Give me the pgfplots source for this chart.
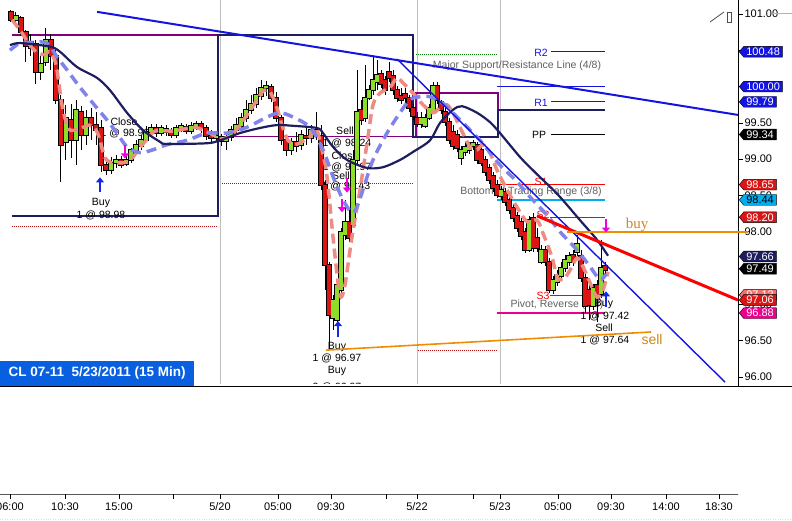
\documentclass[border=0pt]{standalone}
\usepackage{fontspec}
\setmainfont{Liberation Sans}
\newfontfamily\serifface{Liberation Serif}
\usepackage{pgfplots}
\usepackage{pgfplotstable}
\pgfplotsset{compat=1.18}
\usetikzlibrary{arrows.meta,shapes.symbols}

\definecolor{candlered}{RGB}{220,20,20}
\definecolor{candlegreen}{RGB}{140,222,40}
\definecolor{trendblue}{RGB}{20,20,225}
\definecolor{bandnavy}{RGB}{30,30,95}
\definecolor{rangepurple}{RGB}{128,0,128}
\definecolor{fastma}{RGB}{238,140,130}
\definecolor{slowma}{RGB}{130,130,235}
\definecolor{tradeorange}{RGB}{240,140,0}
\definecolor{textorange}{RGB}{205,135,30}
\definecolor{titleblue}{RGB}{8,96,224}
\definecolor{sepgray}{RGB}{190,190,190}
\definecolor{notegray}{RGB}{95,95,95}
\definecolor{arrowmag}{RGB}{240,0,220}
\definecolor{arrowblue}{RGB}{20,40,230}

% 15 min bars, x = bar position, prices in USD
\pgfplotstableread{
x o h l c
16 100.92 101.03 100.86 100.97
31 100.53 100.72 100.42 100.61
41 100.20 100.42 100.09 100.31
46 100.34 100.81 100.28 100.64
66 99.24 99.75 98.99 99.57
76 99.26 99.82 98.92 99.68
86 99.33 99.68 99.20 99.57
111 98.85 99.03 98.80 98.95
116 98.95 99.06 98.88 98.99
126 98.93 99.06 98.91 98.99
131 98.99 99.16 98.95 99.13
136 99.13 99.26 99.10 99.20
141 99.18 99.33 99.13 99.26
146 99.26 99.46 99.24 99.38
151 99.38 99.49 99.32 99.43
161 99.36 99.47 99.32 99.43
176 99.33 99.47 99.29 99.43
181 99.43 99.50 99.38 99.46
191 99.39 99.51 99.35 99.46
196 99.46 99.53 99.40 99.49
216 99.29 99.36 99.25 99.32
226 99.25 99.38 99.13 99.31
231 99.31 99.46 99.25 99.40
236 99.40 99.57 99.35 99.47
241 99.46 99.64 99.40 99.57
246 99.57 99.82 99.51 99.68
251 99.68 99.88 99.62 99.76
256 99.76 99.98 99.71 99.88
261 99.87 100.09 99.82 99.98
266 99.98 100.08 99.87 100.01
291 99.13 99.29 99.06 99.24
301 99.20 99.40 99.13 99.33
311 99.29 99.47 99.22 99.40
333 96.81 97.13 96.65 97.06
337 96.79 97.34 96.72 97.27
341 97.20 98.05 97.14 98.00
345 97.96 98.44 97.89 98.14
353 98.09 99.13 98.05 98.99
357 98.99 100.23 98.92 99.65
365 99.57 100.30 99.51 99.84
369 99.84 100.02 99.82 99.95
373 99.95 100.41 99.88 100.09
377 100.06 100.37 99.95 100.16
421 99.49 99.65 99.43 99.57
425 99.46 99.62 99.43 99.57
429 99.57 99.76 99.54 99.71
433 99.65 100.06 99.62 100.01
461 99.02 99.18 98.92 99.13
465 99.10 99.24 99.04 99.17
469 99.13 99.24 99.07 99.20
473 99.18 99.26 99.13 99.22
501 98.49 98.63 98.44 98.58
529 97.75 98.22 97.72 98.16
541 97.58 97.82 97.56 97.75
553 97.20 97.39 97.14 97.34
557 97.31 97.47 97.25 97.40
561 97.39 97.58 97.34 97.50
565 97.50 97.68 97.45 97.61
569 97.58 97.72 97.53 97.67
577 97.72 97.96 97.67 97.83
593 96.98 97.28 96.92 97.23
601 97.14 97.89 97.09 97.50
}\upbars

\pgfplotstableread{
x o h l c
11 101.03 101.06 100.89 100.92
21 100.95 100.97 100.70 100.75
26 100.75 100.78 100.34 100.56
36 100.59 100.64 100.04 100.20
51 100.64 100.72 100.23 100.42
56 100.42 100.50 99.76 99.82
61 99.82 99.88 98.69 99.20
71 99.54 99.76 99.02 99.26
81 99.65 99.73 99.13 99.33
91 99.57 99.71 99.26 99.47
96 99.47 99.65 99.20 99.40
101 99.43 99.54 98.82 98.92
106 98.92 98.99 98.78 98.85
121 98.99 99.04 98.88 98.92
156 99.43 99.49 99.31 99.36
166 99.42 99.47 99.32 99.38
171 99.38 99.43 99.29 99.33
186 99.44 99.49 99.35 99.39
201 99.49 99.53 99.36 99.43
206 99.43 99.47 99.26 99.32
211 99.32 99.40 99.24 99.29
221 99.31 99.35 99.18 99.25
271 99.99 100.04 99.79 99.84
276 99.84 99.93 99.51 99.57
281 99.57 99.61 99.20 99.26
286 99.26 99.33 99.04 99.13
296 99.24 99.38 99.10 99.18
306 99.32 99.43 99.20 99.29
316 99.40 99.65 99.26 99.32
321 99.32 99.47 98.58 98.64
325 98.64 98.71 97.20 97.54
329 97.54 97.58 96.37 96.85
349 98.14 98.30 97.86 97.91
361 99.68 99.82 99.47 99.54
381 100.17 100.23 99.98 100.04
385 100.09 100.15 99.88 99.95
389 100.20 100.34 100.06 100.12
393 100.15 100.23 99.88 99.95
397 99.95 100.01 99.79 99.84
401 99.87 99.98 99.76 99.82
405 99.90 99.98 99.76 99.84
409 99.84 99.88 99.65 99.71
413 99.71 99.76 99.54 99.60
417 99.57 99.65 99.44 99.49
437 100.01 100.06 99.76 99.82
441 99.79 99.82 99.62 99.68
445 99.65 99.71 99.46 99.51
449 99.51 99.57 99.21 99.26
453 99.38 99.47 99.13 99.18
457 99.33 99.40 99.10 99.16
477 99.20 99.24 98.93 98.99
481 99.13 99.18 98.91 98.95
485 98.99 99.04 98.77 98.82
489 98.88 98.93 98.66 98.71
493 98.77 98.82 98.55 98.60
497 98.64 98.71 98.47 98.51
505 98.55 98.60 98.36 98.41
509 98.44 98.49 98.25 98.30
513 98.33 98.38 98.14 98.19
517 98.22 98.27 98.00 98.05
521 98.14 98.19 97.89 97.94
525 98.00 98.05 97.71 97.75
533 98.19 98.26 97.72 97.78
537 97.91 98.05 97.72 97.78
545 97.75 97.80 97.53 97.58
549 97.58 97.64 97.16 97.20
573 97.68 97.75 97.53 97.58
581 97.67 97.75 97.31 97.36
585 97.36 97.42 96.88 96.98
589 97.20 97.28 96.79 96.99
597 97.27 97.34 96.76 97.09
605 97.53 97.58 97.42 97.47
}\downbars

\pgfplotsset{
  wick/.style={draw=none, mark=none, forget plot,
    error bars/.cd, y dir=both, y explicit, error mark=none,
    error bar style={draw=black, solid, line width=1pt}},
  body/.style 2 args={draw=none, mark=none, forget plot,
    error bars/.cd, y dir=both, y explicit, error mark=none,
    error bar style={draw=#1, solid, line width=#2}},
}

\begin{document}
\begin{tikzpicture}[x=1pt,y=1pt]
\path[use as bounding box] (0,0) rectangle (792,-521);
\clip (0,0) rectangle (792,-521);

\begin{axis}[
    name=price,
    at={(0,0)}, anchor=north west,
    scale only axis, width=738pt, height=386pt,
    xmin=0, xmax=738, ymin=95.876, ymax=101.193,
    axis x line*=bottom, axis y line*=right,
    axis line style={-, black, line width=0.8pt},
    xtick=\empty,
    ytick={96,96.5,97,97.5,98,98.5,99,99.5,100,100.5,101},
    yticklabels={96.00,96.50,97.00,97.50,98.00,98.50,99.00,99.50,100.00,100.50,101.00},
    tick align=outside, major tick length=5pt,
    tick style={black, line width=0.6pt},
    yticklabel style={font=\fontsize{11}{12}\selectfont, xshift=-2pt},
    clip=false,
  ]

  % day separators
  \addplot[sepgray, line width=0.8pt] coordinates {(220,95.876) (220,101.193)};
  \addplot[sepgray, line width=0.8pt] coordinates {(417,95.876) (417,101.193)};
  \addplot[sepgray, line width=0.8pt] coordinates {(500,95.876) (500,101.193)};

  % dotted reference levels
  \addplot[candlered!80!black, densely dotted, line width=1pt] coordinates {(12,98.07) (218,98.07)};
  \addplot[candlered!80!black, densely dotted, line width=1pt] coordinates {(222,98.66) (413,98.66)};
  \addplot[candlered!80!black, densely dotted, line width=1pt] coordinates {(418,96.37) (498,96.37)};
  \addplot[green!50!black, densely dotted, line width=1pt] coordinates {(416,100.44) (498,100.44)};

  % range boxes
  \addplot[rangepurple, line width=1.3pt] coordinates {
    (12,100.71) (218,100.71) (218,99.31) (416,99.31) (416,99.91) (498,99.91) (498,99.31) (416,99.31)};
  \addplot[bandnavy, line width=1.8pt] coordinates {
    (12,98.22) (218,98.22) (218,100.71) (413,100.71) (413,99.31) (498,99.31) (498,99.68) (605,99.68)};

  % pivot levels
  \addplot[trendblue, line width=1pt] coordinates {(551,100.48) (605,100.48)};
  \addplot[trendblue, line width=1pt] coordinates {(551,99.79) (605,99.79)};
  \addplot[black, line width=1pt] coordinates {(551,99.34) (605,99.34)};
  \addplot[trendblue, line width=1.6pt] coordinates {(497,100.00) (605,100.00)};
  \addplot[red, line width=1.6pt] coordinates {(498,98.65) (605,98.65)};
  \addplot[cyan, line width=1.6pt] coordinates {(497,98.44) (605,98.44)};
  \addplot[red, line width=1pt] coordinates {(550,98.20) (605,98.20)};
  \addplot[red, line width=0.8pt] coordinates {(550,97.13) (605,97.13)};
  \addplot[magenta, line width=1.6pt] coordinates {(497,96.88) (605,96.88)};

  % level and trade notes
  \begin{scope}[every node/.style={font=\fontsize{10.5}{11}\selectfont, inner sep=0pt}]
  \node[text=notegray] at (axis cs:517,100.28) {Major Support/Resistance Line (4/8)};
  \node[text=notegray] at (axis cs:531,98.55) {Bottom of Trading Range (3/8)};
  \node[text=notegray] at (axis cs:557,96.99) {Pivot, Reverse (2/8)};
  \node[text=trendblue] at (axis cs:541,100.47) {R2};
  \node[text=trendblue] at (axis cs:541,99.78) {R1};
  \node[text=black] at (axis cs:539,99.34) {PP};
  \node[text=red] at (axis cs:541,98.69) {S1};
  \node[text=red] at (axis cs:543,98.23) {S2};
  \node[text=red] at (axis cs:543,97.12) {S3};
  \node at (axis cs:124,99.52) {Close};
  \node at (axis cs:125,99.36) {1 @ 98.96};
  \node at (axis cs:101,98.40) {Buy};
  \node at (axis cs:101,98.23) {1 @ 98.98};
  \node at (axis cs:345,99.39) {Sell};
  \node at (axis cs:347,99.22) {1 @ 98.24};
  \node at (axis cs:345,99.05) {Close};
  \node at (axis cs:347,98.89) {1 @ 97.97};
  \node at (axis cs:341,98.77) {Sell};
  \node at (axis cs:346,98.62) {1 @ 98.43};
  \node at (axis cs:337,96.42) {Buy};
  \node at (axis cs:337,96.25) {1 @ 96.97};
  \node at (axis cs:337,96.08) {Buy};
  \node at (axis cs:337,95.86) {2 @ 96.97};
  \node at (axis cs:604,97.01) {Buy};
  \node at (axis cs:605,96.84) {1 @ 97.42};
  \node at (axis cs:604,96.68) {Sell};
  \node at (axis cs:605,96.51) {1 @ 97.64};
  \end{scope}

  % candles: wicks, outlines, bodies
  \addplot[wick] table[x=x, y expr={(\thisrow{h}+\thisrow{l})/2}, y error expr={(\thisrow{h}-\thisrow{l})/2}] {\upbars};
  \addplot[wick] table[x=x, y expr={(\thisrow{h}+\thisrow{l})/2}, y error expr={(\thisrow{h}-\thisrow{l})/2}] {\downbars};
  \addplot[body={black}{5.5pt}] table[x=x, y expr={(\thisrow{o}+\thisrow{c})/2}, y error expr={abs(\thisrow{c}-\thisrow{o})/2+0.014}] {\upbars};
  \addplot[body={black}{5.5pt}] table[x=x, y expr={(\thisrow{o}+\thisrow{c})/2}, y error expr={abs(\thisrow{c}-\thisrow{o})/2+0.014}] {\downbars};
  \addplot[body={candlegreen}{3.5pt}] table[x=x, y expr={(\thisrow{o}+\thisrow{c})/2}, y error expr={abs(\thisrow{c}-\thisrow{o})/2}] {\upbars};
  \addplot[body={candlered}{3.5pt}] table[x=x, y expr={(\thisrow{o}+\thisrow{c})/2}, y error expr={abs(\thisrow{c}-\thisrow{o})/2}] {\downbars};

  % fast moving average
  \addplot[fastma, line width=3.5pt, dash pattern=on 10pt off 5pt, smooth] coordinates {
    (12,100.92) (20,100.78) (28,100.61) (36,100.48) (44,100.44) (50,100.48) (56,100.30)
    (62,99.75) (68,99.43) (75,99.40) (82,99.43) (88,99.47) (95,99.43) (100,99.26)
    (105,99.02) (112,98.95) (120,98.95) (127,98.96) (133,99.03) (140,99.16) (146,99.26)
    (152,99.36) (158,99.40) (165,99.39) (175,99.39) (185,99.42) (195,99.44) (205,99.39)
    (215,99.32) (222,99.28) (230,99.32) (238,99.43) (245,99.57) (252,99.71) (258,99.84)
    (264,99.95) (270,99.93) (276,99.75) (282,99.47) (288,99.26) (295,99.20) (302,99.24)
    (310,99.31) (316,99.43) (322,99.13) (327,98.76) (333,97.93) (338,97.30) (341,97.10)
    (345,97.27) (352,97.93) (360,98.58) (368,99.31) (373,99.75) (380,99.91) (390,99.99)
    (397,100.12) (403,100.05) (413,99.91) (423,99.75) (433,99.64) (440,99.71) (447,99.75)
    (453,99.64) (460,99.44) (470,99.17) (477,99.13) (483,99.20) (490,99.09) (497,98.85)
    (507,98.58) (517,98.34) (527,98.14) (537,98.16) (543,97.98) (552,97.65) (557,97.38)
    (563,97.34) (570,97.47) (577,97.64) (583,97.52) (590,97.30) (597,97.10) (603,97.20)
    (608,97.45)};

  % slow moving average
  \addplot[slowma, line width=3.5pt, dash pattern=on 10pt off 6pt, smooth] coordinates {
    (10,100.50) (20,100.60) (33,100.61) (47,100.60) (57,100.41) (67,100.23) (80,99.99)
    (93,99.77) (107,99.54) (117,99.36) (127,99.17) (140,99.09) (153,99.13) (167,99.20)
    (187,99.26) (207,99.36) (227,99.36) (247,99.44) (267,99.58) (280,99.64) (293,99.58)
    (310,99.44) (323,99.13) (333,98.76) (343,98.44) (352,98.26) (357,98.34) (363,98.58)
    (373,98.99) (387,99.36) (400,99.64) (410,99.82) (420,99.86) (430,99.86) (443,99.77)
    (453,99.64) (463,99.50) (480,99.26) (490,99.09) (500,98.92) (517,98.69) (530,98.48)
    (547,98.23) (560,98.00) (577,97.75) (590,97.52) (600,97.34) (606,97.42)};

  % band
  \addplot[bandnavy, line width=2.2pt, smooth] coordinates {
    (10,100.57) (20,100.60) (50,100.55) (60,100.48) (77,100.27) (97,100.12) (110,99.95)
    (127,99.64) (143,99.40) (160,99.24) (167,99.21) (207,99.22) (220,99.26) (240,99.36)
    (260,99.43) (277,99.47) (293,99.46) (317,99.43) (323,99.36) (333,99.17) (347,98.99)
    (367,98.88) (383,98.89) (400,98.99) (413,99.10) (430,99.26) (440,99.50) (453,99.68)
    (462,99.73) (477,99.64) (490,99.51) (500,99.36) (520,99.03) (535,98.82) (558,98.51)
    (580,98.16) (597,97.89) (608,97.67)};

  % trend lines
  \addplot[trendblue, line width=2pt] coordinates {(97,101.03) (738,99.61)};
  \addplot[trendblue, line width=1.4pt] coordinates {(397,100.38) (725,95.93)};
  \addplot[red, line width=3pt] coordinates {(537,98.22) (738,97.06)};
  \addplot[tradeorange, line width=2pt] coordinates {(567,98.00) (748,98.00)};
  \addplot[tradeorange, line width=1.6pt] coordinates {(326,96.37) (651,96.62)};

  % signal arrows
  \addplot[arrowblue, line width=2.5pt, -{Triangle[width=8pt,length=5pt]}] coordinates {(100,98.55) (100,98.75)};
  \addplot[arrowblue, line width=2.5pt, -{Triangle[width=8pt,length=5pt]}] coordinates {(338,96.55) (338,96.77)};
  \addplot[arrowblue, line width=2.5pt, -{Triangle[width=8pt,length=5pt]}] coordinates {(606,96.96) (606,97.18)};
  \addplot[arrowmag, line width=2.5pt, -{Triangle[width=8pt,length=5pt]}] coordinates {(125,99.20) (125,99.01)};
  \addplot[arrowmag, line width=2.5pt, -{Triangle[width=8pt,length=5pt]}] coordinates {(347,98.74) (347,98.54)};
  \addplot[arrowmag, line width=2.5pt, -{Triangle[width=8pt,length=5pt]}] coordinates {(342,98.45) (342,98.27)};
  \addplot[arrowmag, line width=2.5pt, -{Triangle[width=8pt,length=5pt]}] coordinates {(606,98.18) (606,97.99)};

  \node[text=textorange, font=\serifface\fontsize{15}{16}\selectfont, inner sep=0pt] at (axis cs:637,98.09) {buy};
  \node[text=textorange, font=\fontsize{14}{15}\selectfont, inner sep=0pt] at (axis cs:652,96.51) {sell};

  % title
  \node[fill=titleblue, text=white, anchor=south west, minimum width=194pt, minimum height=25pt,
        inner sep=0pt, font=\bfseries\fontsize{13.5}{14}\selectfont] at (rel axis cs:0,0)
        {CL 07-11\ \ 5/23/2011 (15 Min)};

  % last-value tags on the price scale
  \begin{scope}[every node/.style={signal, signal to=west, signal pointer angle=100, draw=black,
      line width=0.4pt, anchor=west, inner xsep=2.5pt, inner ysep=1.5pt, text=white,
      font=\fontsize{11}{12}\selectfont}]
  \node[fill=trendblue] at (axis cs:739,100.48) {100.48};
  \node[fill=trendblue] at (axis cs:739,100.00) {100.00};
  \node[fill=trendblue] at (axis cs:739,99.79) {99.79};
  \node[fill=black] at (axis cs:739,99.34) {99.34};
  \node[fill=candlered] at (axis cs:739,98.65) {98.65};
  \node[fill=cyan, text=black] at (axis cs:739,98.44) {98.44};
  \node[fill=candlered] at (axis cs:739,98.20) {98.20};
  \node[fill=bandnavy] at (axis cs:739,97.66) {97.66};
  \node[fill=black] at (axis cs:739,97.49) {97.49};
  \node[fill=fastma!80!red] at (axis cs:739,97.13) {97.13};
  \node[fill=candlered] at (axis cs:739,97.06) {97.06};
  \node[fill=magenta] at (axis cs:739,96.88) {96.88};
  \end{scope}
\end{axis}

% empty lower pane with the time scale
\fill[white] (200,-383.5) rectangle (738,-494);
\begin{axis}[
    at={(price.south west)}, anchor=north west,
    scale only axis, width=738pt, height=108pt,
    xmin=0, xmax=738, ymin=0, ymax=1,
    hide y axis,
    axis line style={-, black, line width=0.8pt},
    xtick pos=lower,
    xtick={10,65,119,173,220,278,331,386,417,473,500,558,611,666,719},
    xticklabels={06:00,10:30,15:00,,5/20,05:00,09:30,,5/22,,5/23,05:00,09:30,14:00,18:30},
    tick align=outside, major tick length=5pt,
    tick style={black, line width=0.6pt},
    xticklabel style={font=\fontsize{11}{12}\selectfont},
  ]
  \addplot[draw=none] coordinates {(0,0)};
\end{axis}

\draw[black, line width=0.8pt] (0,-386) -- (792,-386);
\draw[gray!25, dotted] (0,-519.5) -- (792,-519.5);
\draw[black!70, line width=0.8pt] (710,-22) -- (724,-12);
\draw[black!70, line width=0.8pt] (727,-12) rectangle (731,-22);
\draw[gray!60, line width=0.8pt] (772,-13) -- (792,-13);
\end{tikzpicture}
\end{document}
